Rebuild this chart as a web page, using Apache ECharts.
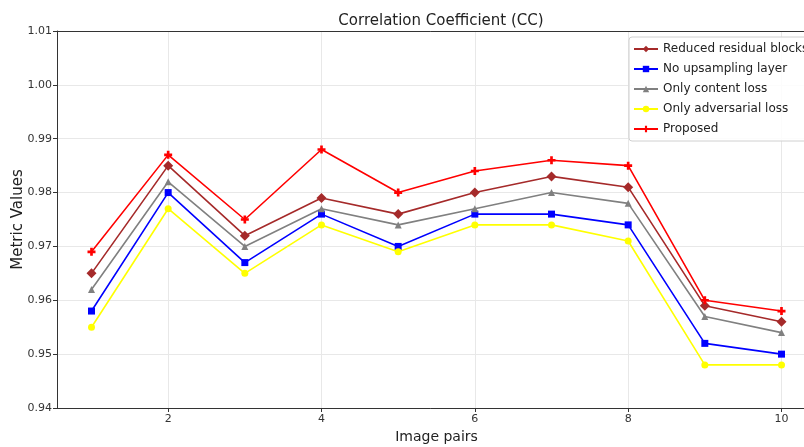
<!DOCTYPE html>
<html>
<head>
<meta charset="utf-8">
<script src="https://cdn.jsdelivr.net/npm/echarts@6/dist/echarts.min.js"></script>
<style>
  html, body { margin: 0; padding: 0; background: #fff; }
  #chart { width: 804px; height: 447px; }
</style>
</head>
<body>
<div id="chart"></div>
<script>
// Image pair indices
const pairs = [1, 2, 3, 4, 5, 6, 7, 8, 9, 10];

// Correlation coefficient per ablation variant
const reducedResidual = [0.965, 0.985, 0.972, 0.979, 0.976, 0.980, 0.983, 0.981, 0.959, 0.956];
const noUpsampling    = [0.958, 0.980, 0.967, 0.976, 0.970, 0.976, 0.976, 0.974, 0.952, 0.950];
const contentOnly     = [0.962, 0.982, 0.970, 0.977, 0.974, 0.977, 0.980, 0.978, 0.957, 0.954];
const adversarialOnly = [0.955, 0.977, 0.965, 0.974, 0.969, 0.974, 0.974, 0.971, 0.948, 0.948];
const proposed        = [0.969, 0.987, 0.975, 0.988, 0.980, 0.984, 0.986, 0.985, 0.960, 0.958];

const xTicks = [2, 4, 6, 8, 10];

const plusPath = 'path://M2,0h2v2h2v2h-2v2h-2v-2h-2v-2h2z';
const gridColor = '#e8e8e8';

function makeSeries(name, values, color, symbol, size) {
  return {
    name: name,
    type: 'line',
    data: pairs.map((p, i) => [p, values[i]]),
    symbol: symbol,
    symbolSize: size,
    showAllSymbol: true,
    lineStyle: { color: color, width: 1.6 },
    itemStyle: { color: color, borderWidth: 0 },
    emphasis: { disabled: true },
    z: 3
  };
}

const font = 'DejaVu Sans';
const chart = echarts.init(document.getElementById('chart'), null, { renderer: 'canvas' });

chart.setOption({
  animation: false,
  backgroundColor: '#ffffff',
  title: {
    text: 'Correlation Coefficient (CC)',
    left: 436, top: 9, textAlign: 'center',
    textStyle: { fontFamily: font, fontSize: 15, fontWeight: 'normal', color: '#222' }
  },
  grid: {
    left: 57, top: 31, width: 759, height: 377,
    outerBoundsMode: 'none'
  },
  legend: {
    left: 629, top: 37,
    orient: 'vertical',
    itemWidth: 24, itemHeight: 8, itemGap: 6,
    padding: [5, 8, 5, 4],
    backgroundColor: 'rgba(255,255,255,0.85)',
    borderColor: '#d0d0d0', borderWidth: 1, borderRadius: 3,
    textStyle: { fontFamily: font, fontSize: 12, color: '#222', lineHeight: 14 },
    data: ['Reduced residual blocks', 'No upsampling layer', 'Only content loss', 'Only adversarial loss', 'Proposed']
  },
  xAxis: [{
    type: 'value',
    min: 0.55, max: 10.45,
    name: 'Image pairs',
    nameLocation: 'middle', nameGap: 22,
    nameTextStyle: { fontFamily: font, fontSize: 14, color: '#222' },
    axisLine: { show: true, lineStyle: { color: '#333', width: 1 } },
    axisTick: { show: true, length: 4, lineStyle: { color: '#333' }, customValues: xTicks },
    axisLabel: { fontFamily: font, fontSize: 11, color: '#333', margin: 6, customValues: xTicks },
    splitLine: { show: false }
  }, {
    // top frame line
    type: 'value', position: 'top',
    min: 0.55, max: 10.45,
    axisLine: { show: true, lineStyle: { color: '#333', width: 1 } },
    axisTick: { show: false }, axisLabel: { show: false }, splitLine: { show: false }
  }],
  yAxis: {
    type: 'value',
    min: 0.94, max: 1.01, interval: 0.01,
    name: 'Metric Values',
    nameLocation: 'middle', nameGap: 31,
    nameMoveOverlap: false,
    nameTextStyle: { fontFamily: font, fontSize: 15, color: '#222' },
    axisLine: { show: true, lineStyle: { color: '#333', width: 1 } },
    axisTick: { show: true, length: 4, lineStyle: { color: '#333' } },
    axisLabel: {
      fontFamily: font, fontSize: 11, color: '#333', margin: 5,
      formatter: v => v.toFixed(2)
    },
    splitLine: { show: true, lineStyle: { color: gridColor, width: 1 } }
  },
  series: [
    {
      // vertical grid lines at the labelled x ticks
      type: 'line', data: [], z: 0, silent: true,
      markLine: {
        z: 0, silent: true, symbol: 'none', label: { show: false },
        lineStyle: { color: gridColor, width: 1, type: 'solid' },
        emphasis: { disabled: true },
        data: xTicks.map(v => ({ xAxis: v }))
      }
    },
    makeSeries('Reduced residual blocks', reducedResidual, '#a52a2a', 'diamond', 10),
    makeSeries('No upsampling layer', noUpsampling, '#0000ff', 'rect', 7),
    makeSeries('Only content loss', contentOnly, '#808080', 'triangle', 7),
    makeSeries('Only adversarial loss', adversarialOnly, '#ffff00', 'circle', 7),
    makeSeries('Proposed', proposed, '#ff0000', plusPath, 8)
  ]
});
</script>
</body>
</html>
